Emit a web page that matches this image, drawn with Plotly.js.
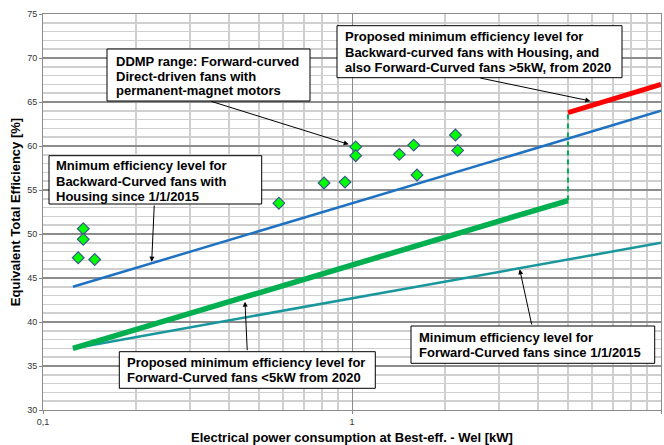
<!DOCTYPE html>
<html>
<head>
<meta charset="utf-8">
<script src="https://cdn.plot.ly/plotly-3.0.1.min.js"></script>
<style>html,body{margin:0;padding:0;background:#fff;}#chart{width:664px;height:445px;}</style>
</head>
<body>
<div id="chart"></div>
<script>
// DDMP range data points (kW, %)
const ddmpPower = [0.130, 0.135, 0.135, 0.147, 0.58, 0.812, 0.949, 1.028, 1.028, 1.423, 1.584, 1.623, 2.161, 2.198];
const ddmpEff   = [47.3, 50.6, 49.4, 47.1, 53.5, 55.8, 55.9, 59.9, 58.9, 59.05, 60.1, 56.7, 61.25, 59.5];

// Minimum efficiency BC fans with housing since 2015
const bc2015Power = [0.125, 1, 10];
const bc2015Eff   = [44.0, 53.5, 64.0];

// Minimum efficiency FC fans since 2015
const fc2015Power = [0.125, 1, 10];
const fc2015Eff   = [37.0, 42.7, 49.0];

// Proposed FC fans <5kW from 2020
const fc2020Power = [0.125, 1, 5];
const fc2020Eff   = [37.0, 46.45, 53.8];

// Proposed BC with housing / FC >5kW from 2020
const bc2020Power = [5, 10];
const bc2020Eff   = [63.8, 67.0];

// Step at 5 kW
const stepPower = [5, 5];
const stepEff   = [53.8, 63.8];

const yTicks = [30, 35, 40, 45, 50, 55, 60, 65, 70, 75];
const xTicks = [0.1, 1, 10];
const xTickText = ['0,1', '1', '10'];

// Callout texts (one entry per line)
const labelDDMP = ['DDMP range: Forward-curved', 'Direct-driven fans with', 'permanent-magnet motors'];
const labelBC2015 = ['Mnimum efficiency level for', 'Backward-Curved fans with', 'Housing since 1/1/2015'];
const labelBC2020 = ['Proposed minimum efficiency level for', 'Backward-curved fans with Housing, and', 'also Forward-Curved fans >5kW, from 2020'];
const labelFC2020 = ['Proposed minimum efficiency level for', 'Forward-Curved fans <5kW from 2020'];
const labelFC2015 = ['Minimum efficiency level for', 'Forward-Curved fans since 1/1/2015'];

const font = 'Liberation Sans, Arial, sans-serif';

const traces = [
  {x: fc2015Power, y: fc2015Eff, mode: 'lines', line: {color: '#1a979c', width: 2.5}, hoverinfo: 'skip'},
  {x: fc2020Power, y: fc2020Eff, mode: 'lines', line: {color: '#00b050', width: 5.5}, hoverinfo: 'skip'},
  {x: bc2015Power, y: bc2015Eff, mode: 'lines', line: {color: '#1f72c2', width: 2.5}, hoverinfo: 'skip'},
  {x: stepPower, y: stepEff, mode: 'lines', line: {color: '#00b050', width: 2, dash: '5px,4px'}, hoverinfo: 'skip'},
  {x: bc2020Power, y: bc2020Eff, mode: 'lines', line: {color: '#ff0000', width: 5}, hoverinfo: 'skip'},
  {x: ddmpPower, y: ddmpEff, mode: 'markers', marker: {symbol: 'diamond', size: 9, color: '#00ff00', line: {color: '#3a5a8c', width: 1.2}}}
];

const minorX = [];
[0.1, 1].forEach(d => { for (let k = 2; k <= 9; k++) minorX.push(+(d * k).toFixed(3)); });

// plot area in pixels
const L = 43, R = 661, T = 14, B = 410;
const px = v => (v - L) / (R - L);
const py = v => (B - v) / (B - T);

const shapes = [];
const annotations = [];

function callout(lines, box, textLeft, lineY, tail, tip) {
  shapes.push({type: 'rect', xref: 'paper', yref: 'paper', layer: 'above',
    x0: px(box[0]), x1: px(box[2]), y0: py(box[3]), y1: py(box[1]),
    fillcolor: '#ffffff', line: {color: '#000', width: 1}});
  lines.forEach((t, i) => {
    annotations.push({text: t, xref: 'paper', yref: 'paper', x: px(textLeft), y: py(lineY[i]),
      xanchor: 'left', yanchor: 'middle', showarrow: false,
      font: {family: font, size: 13, color: '#000', weight: 'bold'}});
  });
  annotations.push({text: '', xref: 'paper', yref: 'paper', x: px(tip[0]), y: py(tip[1]),
    ax: tail[0] - tip[0], ay: tail[1] - tip[1], showarrow: true,
    arrowhead: 2, arrowsize: 1, arrowwidth: 1, arrowcolor: '#000', standoff: 0, startstandoff: 0});
}

callout(labelDDMP,   [107, 49, 310, 101],  114, [61, 76, 90],     [210, 101],   [348.7, 144.3]);
callout(labelBC2015, [49, 155.7, 261.7, 204], 54, [165.7, 181.2, 196.2], [154.3, 204], [151.7, 261.7]);
callout(labelBC2020, [337, 25.7, 622, 77.7], 343, [36.5, 52.3, 67.8], [478.7, 77.7], [590.3, 101]);
callout(labelFC2020, [119.3, 351.7, 375.3, 388.3], 125, [362.7, 377], [247.3, 351.7], [245, 301.7]);
callout(labelFC2015, [411, 326, 654.7, 363.3], 417, [337.7, 352.7], [532, 326], [519.7, 269.3]);

const layout = {
  width: 664, height: 445,
  margin: {l: L, r: 664 - R, t: T, b: 445 - B},
  paper_bgcolor: '#fff', plot_bgcolor: '#fff',
  showlegend: false,
  font: {family: font},
  xaxis: {
    type: 'log', range: [-1, 1],
    tickvals: xTicks, ticktext: xTickText,
    tickfont: {size: 9, color: '#333'},
    ticks: 'outside', ticklen: 3, tickcolor: '#888',
    showgrid: true, gridcolor: '#8c8c8c', gridwidth: 1,
    minor: {tickvals: minorX, showgrid: true, gridcolor: '#cfcfcf', gridwidth: 2, ticks: ''},
    showline: true, linecolor: '#8c8c8c', linewidth: 1, mirror: true,
    zeroline: false,
    title: {text: 'Electrical power consumption at Best-eff. - Wel [kW]', font: {size: 13, color: '#000', weight: 'bold'}, standoff: 7}
  },
  yaxis: {
    range: [30, 75], tickvals: yTicks,
    tickfont: {size: 9, color: '#333'},
    ticks: 'outside', ticklen: 3, tickcolor: '#888',
    showgrid: true, gridcolor: '#8c8c8c', gridwidth: 2,
    minor: {dtick: 1, showgrid: true, gridcolor: '#cfcfcf', gridwidth: 1.5, ticks: ''},
    showline: true, linecolor: '#8c8c8c', linewidth: 1, mirror: true,
    zeroline: false,
    title: {text: 'Equivalent Total Efficiency [%]', font: {size: 13, color: '#000', weight: 'bold'}, standoff: 3}
  },
  shapes: shapes,
  annotations: annotations
};

Plotly.newPlot('chart', traces, layout, {displayModeBar: false, staticPlot: true});
</script>
</body>
</html>
